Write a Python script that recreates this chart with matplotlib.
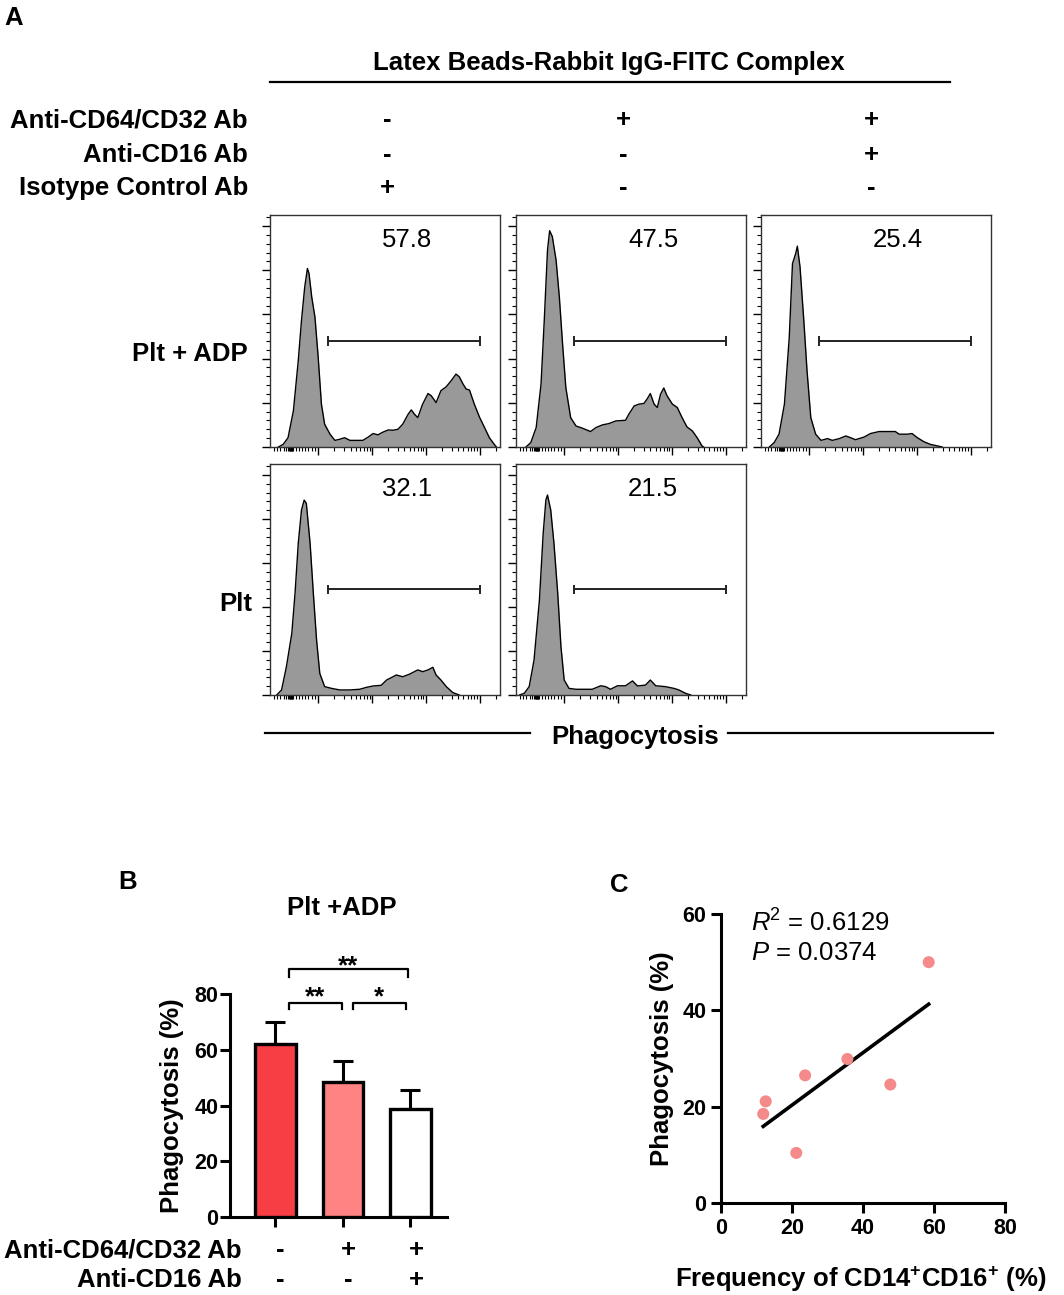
import matplotlib.pyplot as plt
import numpy as np
from matplotlib.ticker import MultipleLocator, FixedLocator
from matplotlib.transforms import ScaledTranslation

plt.rcParams['font.family'] = ['Liberation Sans', 'DejaVu Sans']
plt.rcParams['mathtext.fontset'] = 'custom'
plt.rcParams['mathtext.rm'] = 'Liberation Sans'
plt.rcParams['mathtext.it'] = 'Liberation Sans:italic'
plt.rcParams['mathtext.bf'] = 'Liberation Sans:bold'

W, H = 1064, 1295

# ---- panel A: flow histograms (x = log10 FITC, y = % of max) ----
adp_iso_x = [1.26, 1.35, 1.44, 1.54, 1.63, 1.69, 1.75, 1.80, 1.83, 1.88, 1.94, 2.00, 2.06, 2.12,
             2.22, 2.31, 2.40, 2.49, 2.59, 2.71, 2.83, 2.93, 3.02, 3.11, 3.20, 3.30, 3.39, 3.48,
             3.57, 3.67, 3.73, 3.79, 3.85, 3.94, 4.04, 4.10, 4.19, 4.28, 4.38, 4.47, 4.56, 4.62,
             4.69, 4.75, 4.81, 4.90, 5.00, 5.09, 5.18, 5.27, 5.31]
adp_iso_y = [0, 1.2, 4.2, 16.4, 39.1, 57.3, 72.4, 80.8, 78.5, 67.9, 58.8, 40.6, 19.4, 10.3,
             5.8, 3.0, 3.5, 4.2, 3.0, 3.0, 3.0, 4.5, 6.1, 5.5, 6.7, 7.7, 7.6, 8.0,
             10.3, 14.8, 16.8, 14.8, 13.3, 19.4, 24.2, 23.2, 20.1, 25.5, 27.3, 30.0, 33.0, 31.8,
             28.5, 26.2, 25.8, 19.4, 13.3, 8.8, 4.2, 1.2, 0]

adp_cd64_x = [1.29, 1.38, 1.48, 1.57, 1.63, 1.69, 1.73, 1.78, 1.85, 1.91, 1.97, 2.03, 2.12, 2.22,
              2.34, 2.43, 2.49, 2.59, 2.71, 2.83, 2.96, 3.14, 3.20, 3.30, 3.39, 3.48, 3.54, 3.60,
              3.67, 3.73, 3.79, 3.85, 3.91, 4.01, 4.10, 4.19, 4.28, 4.38, 4.47, 4.56, 4.59]
adp_cd64_y = [0, 2.0, 8.8, 28.5, 57.3, 89.1, 97.9, 95.2, 84.5, 67.9, 46.7, 27.0, 13.3, 9.5,
              8.5, 7.6, 7.0, 8.8, 10.0, 10.6, 11.8, 12.1, 14.8, 18.6, 19.4, 19.7, 21.7, 24.2,
              19.4, 17.9, 23.9, 26.7, 23.2, 19.4, 17.9, 13.3, 9.1, 7.3, 4.2, 0.5, 0]

adp_both_x = [1.26, 1.35, 1.44, 1.54, 1.63, 1.69, 1.75, 1.78, 1.83, 1.90, 1.96, 2.03, 2.12, 2.22,
              2.34, 2.43, 2.56, 2.68, 2.77, 2.86, 3.02, 3.14, 3.30, 3.45, 3.60, 3.67, 3.82, 3.91,
              4.01, 4.13, 4.25, 4.38, 4.47]
adp_both_y = [0, 2.0, 5.8, 19.4, 49.7, 83.0, 87.6, 90.9, 81.5, 57.3, 34.5, 13.3, 5.8, 3.0,
              3.8, 3.0, 3.8, 5.0, 4.2, 3.3, 4.5, 6.1, 7.0, 7.0, 7.0, 5.8, 5.8, 6.1,
              4.2, 2.4, 1.2, 0.5, 0]

plt_iso_x = [1.23, 1.32, 1.41, 1.51, 1.57, 1.63, 1.69, 1.74, 1.78, 1.85, 1.91, 1.97, 2.03, 2.12,
             2.25, 2.40, 2.59, 2.77, 2.90, 3.02, 3.17, 3.27, 3.39, 3.45, 3.57, 3.70, 3.85, 3.94,
             4.04, 4.13, 4.19, 4.28, 4.38, 4.50, 4.62]
plt_iso_y = [0, 2.3, 12.9, 28.0, 46.2, 68.9, 84.1, 88.6, 87.1, 68.9, 46.2, 25.0, 9.8, 3.8,
             3.0, 2.3, 2.3, 2.6, 3.5, 4.1, 4.4, 6.8, 8.3, 9.1, 8.3, 9.5, 11.4, 10.6,
             11.4, 12.6, 9.1, 6.8, 3.8, 1.1, 0]

plt_cd64_x = [1.17, 1.26, 1.35, 1.44, 1.54, 1.61, 1.66, 1.69, 1.75, 1.81, 1.88, 1.94, 2.00, 2.09,
              2.22, 2.40, 2.52, 2.68, 2.77, 2.86, 2.99, 3.14, 3.27, 3.36, 3.51, 3.60, 3.70, 3.88,
              4.04, 4.13, 4.25, 4.35]
plt_cd64_y = [0, 0.8, 3.8, 15.9, 43.2, 73.5, 88.6, 90.9, 84.1, 68.9, 46.2, 22.0, 6.8, 3.0,
              2.6, 2.6, 2.6, 4.2, 3.8, 2.6, 4.2, 4.2, 6.4, 4.1, 4.5, 6.8, 4.2, 3.8,
              3.0, 2.3, 0.8, 0]

gate_pct = ["57.8", "47.5", "25.4", "32.1", "21.5"]
gate_lo, gate_hi, gate_level = 2.19, 5.01, 48.0

# ---- panel B: bar chart ----
bar_means = [62.1, 48.6, 38.7]
bar_sems = [8.0, 7.5, 6.9]
bar_colors = ["#F63E44", "#FF8383", "#FFFFFF"]
cd64_signs = ["-", "+", "+"]
cd16_signs = ["-", "-", "+"]
iso_signs = ["+", "-", "-"]

# ---- panel C: correlation ----
cd16_freq = [58.5, 35.6, 23.7, 47.7, 12.6, 11.9, 21.2]
phago = [50.0, 29.9, 26.5, 24.6, 21.1, 18.5, 10.4]


def box(left, top, right, bottom):
    return [left / W, 1 - bottom / H, (right - left) / W, (bottom - top) / H]


def fx(px):
    return px / W


def fy(py):
    return 1 - py / H


fig = plt.figure(figsize=(W / 100, H / 100), dpi=100)

BIG = 18.5
TICK = 15.5

# panel A header
fig.text(fx(4), fy(18), "A", fontsize=BIG, fontweight="bold", va="center", ha="left")
fig.text(fx(609), fy(63), "Latex Beads-Rabbit IgG-FITC Complex", fontsize=BIG,
         fontweight="bold", ha="center", va="center")
fig.add_artist(plt.Line2D([fx(270), fx(950)], [fy(82), fy(82)], color="black", lw=1.6))

row_names = ["Anti-CD64/CD32 Ab", "Anti-CD16 Ab", "Isotype Control Ab"]
row_y = [120, 155, 188]
col_x = [387, 623, 871]
for name, yy, signs in zip(row_names, row_y, [cd64_signs, cd16_signs, iso_signs]):
    fig.text(fx(248), fy(yy), name, fontsize=BIG, fontweight="bold", ha="right", va="center")
    for xx, s in zip(col_x, signs):
        fig.text(fx(xx), fy(yy), s, fontsize=BIG, fontweight="bold", ha="center", va="center")

hists = [(adp_iso_x, adp_iso_y), (adp_cd64_x, adp_cd64_y), (adp_both_x, adp_both_y),
         (plt_iso_x, plt_iso_y), (plt_cd64_x, plt_cd64_y)]
slots = [(270, 215, 447), (516, 215, 447), (761, 215, 447), (270, 464, 695), (516, 464, 695)]

minor_x = [1.18, 1.24, 1.30, 1.36, 1.41, 1.44, 1.46, 1.47, 1.48, 1.49, 1.50, 1.51, 1.52, 1.54,
           1.58, 1.64, 1.70, 1.76, 1.82, 1.88, 1.94]
for d in (2, 3, 4):
    minor_x += [d + np.log10(k) for k in range(2, 10)]
minor_x += [5.30]

for (hx, hy), (left, top, bottom), pct in zip(hists, slots, gate_pct):
    ax = fig.add_axes(box(left, top, left + 230, bottom))
    ax.fill_between(hx, hy, 0, color="#999999", lw=0)
    ax.plot(hx, hy, color="black", lw=1.0)
    ax.hlines(gate_level, gate_lo, gate_hi, color="#222222", lw=1.4)
    ax.vlines([gate_lo, gate_hi], gate_level - 2.2, gate_level + 2.2, color="#222222", lw=1.4)
    ax.text(3.65, 93.5, pct, fontsize=BIG, ha="center", va="center")
    ax.set_xlim(1.105, 5.377)
    ax.set_ylim(0, 105)
    ax.xaxis.set_major_locator(FixedLocator([2, 3, 4, 5]))
    ax.xaxis.set_minor_locator(FixedLocator(minor_x))
    ax.yaxis.set_major_locator(MultipleLocator(20))
    ax.yaxis.set_minor_locator(MultipleLocator(4))
    ax.tick_params(which="major", direction="out", length=6, width=1, labelleft=False,
                   labelbottom=False)
    ax.tick_params(which="minor", direction="out", length=3, width=0.8)
    for sp in ax.spines.values():
        sp.set_linewidth(1.0)
        sp.set_color("#333333")

fig.text(fx(248), fy(354), "Plt + ADP", fontsize=BIG, fontweight="bold", ha="right", va="center")
fig.text(fx(252), fy(604), "Plt", fontsize=BIG, fontweight="bold", ha="right", va="center")
fig.text(fx(635), fy(737), "Phagocytosis", fontsize=BIG, fontweight="bold", ha="center",
         va="center")
fig.add_artist(plt.Line2D([fx(265), fx(530)], [fy(733), fy(733)], color="black", lw=1.6))
fig.add_artist(plt.Line2D([fx(728), fx(993)], [fy(733), fy(733)], color="black", lw=1.6))

# panel B
fig.text(fx(118), fy(882), "B", fontsize=BIG, fontweight="bold", va="center", ha="left")
fig.text(fx(342), fy(908), "Plt +ADP", fontsize=BIG, fontweight="bold", ha="center", va="center")
axB = fig.add_axes(box(230, 994, 447, 1217))
pos = np.arange(len(bar_means))
axB.errorbar(pos, bar_means, yerr=[np.zeros(3), bar_sems], fmt="none", ecolor="black",
             elinewidth=2.2, capsize=7.5, capthick=2.2, zorder=2)
axB.bar(pos, bar_means, width=0.6, color=bar_colors, edgecolor="black", linewidth=2.4, zorder=3)
axB.set_xlim(-0.67, 2.54)
axB.set_ylim(0, 80)
axB.set_yticks([0, 20, 40, 60, 80])
axB.set_xticks(pos)
axB.set_xticklabels([])
axB.spines["top"].set_visible(False)
axB.spines["right"].set_visible(False)
for sp in ("left", "bottom"):
    axB.spines[sp].set_linewidth(2.2)
axB.tick_params(direction="out", length=7.5, width=2.2, labelsize=TICK, pad=1)
for lab in axB.get_yticklabels():
    lab.set_fontweight("bold")
axB.set_ylabel("Phagocytosis (%)", fontsize=BIG, fontweight="bold", va="center")
axB.yaxis.set_label_coords(-0.265, 0.5)


def bracket(ax, x0, x1, y, label, drop, gap_px):
    ax.plot([x0, x0, x1, x1], [y - drop, y, y, y - drop], color="black", lw=1.6,
            clip_on=False)
    shift = ScaledTranslation(0, -gap_px / 100, fig.dpi_scale_trans)
    ax.text((x0 + x1) / 2, y, label, fontsize=BIG, fontweight="bold", ha="center",
            va="baseline", clip_on=False, transform=ax.transData + shift)


bracket(axB, 0.204, 1.96, 89.0, "**", 2.9, 4)
bracket(axB, 0.204, 0.98, 76.8, "**", 2.2, 1)
bracket(axB, 1.15, 1.93, 76.8, "*", 2.2, 1)

for name, yy, signs in zip(row_names[:2], [1250, 1280], [cd64_signs, cd16_signs]):
    fig.text(fx(242), fy(yy), name, fontsize=BIG, fontweight="bold", ha="right", va="center")
    shift = ScaledTranslation(0, -(yy - 1217) / 100, fig.dpi_scale_trans)
    for p, s in zip(pos, signs):
        axB.text(p + 0.08, 0, s, fontsize=BIG, fontweight="bold", ha="center", va="center",
                 transform=axB.get_xaxis_transform() + shift)

# panel C
fig.text(fx(610), fy(885), "C", fontsize=BIG, fontweight="bold", va="center", ha="left")
axC = fig.add_axes(box(721, 914, 1005, 1203))
axC.scatter(cd16_freq, phago, s=75, color="#F48A8A", edgecolors="none", zorder=3)
slope, icpt = np.polyfit(cd16_freq, phago, 1)
xs = np.array([min(cd16_freq), max(cd16_freq)])
axC.plot(xs, slope * xs + icpt, color="black", lw=2.6, zorder=2)
axC.set_xlim(0, 80)
axC.set_ylim(0, 60)
axC.set_xticks([0, 20, 40, 60, 80])
axC.set_yticks([0, 20, 40, 60])
axC.spines["top"].set_visible(False)
axC.spines["right"].set_visible(False)
for sp in ("left", "bottom"):
    axC.spines[sp].set_linewidth(2.2)
axC.tick_params(direction="out", length=7.5, width=2.2, labelsize=TICK, pad=3)
for lab in axC.get_xticklabels() + axC.get_yticklabels():
    lab.set_fontweight("bold")
axC.set_ylabel("Phagocytosis (%)", fontsize=BIG, fontweight="bold", va="center")
axC.yaxis.set_label_coords(-0.208, 0.5)
axC.set_xlabel(r"Frequency of CD14$^{\mathbf{+}}$CD16$^{\mathbf{+}}$ (%)", fontsize=BIG,
               fontweight="bold", va="center")
axC.xaxis.set_label_coords(0.49, -0.263)
axC.text(0.105, 0.97, r"$\it{R}$$^{2}$ = 0.6129", fontsize=BIG, transform=axC.transAxes,
         ha="left", va="center")
axC.text(0.105, 0.865, r"$\it{P}$ = 0.0374", fontsize=BIG, transform=axC.transAxes,
         ha="left", va="center")

fig.savefig("out.png", dpi=100)
